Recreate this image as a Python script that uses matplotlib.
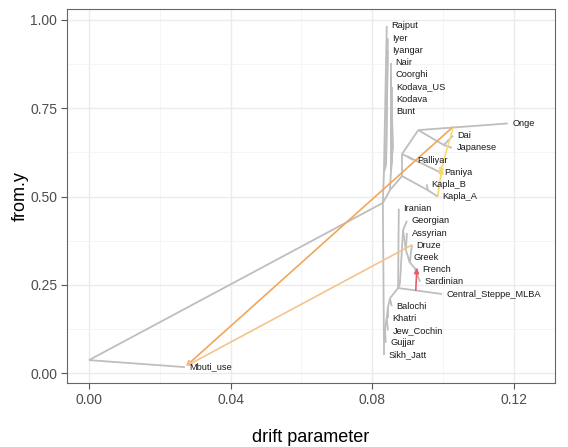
import matplotlib.pyplot as plt
from matplotlib.ticker import FixedLocator

plt.rcParams['font.family'] = ['Liberation Sans', 'DejaVu Sans']

# leaves of the tree (drift, vertical position)
leaf_names = ['Mbuti_use', 'Sikh_Jatt', 'Gujjar', 'Jew_Cochin', 'Khatri', 'Balochi',
              'Central_Steppe_MLBA', 'Sardinian', 'French', 'Greek', 'Druze', 'Assyrian',
              'Georgian', 'Iranian', 'Kapla_A', 'Kapla_B', 'Paniya', 'Palliyar',
              'Japanese', 'Dai', 'Onge', 'Bunt', 'Kodava', 'Kodava_US', 'Coorghi',
              'Nair', 'Iyangar', 'Iyer', 'Rajput']
leaf_x = [0.0271, 0.0833, 0.0838, 0.0844, 0.0844, 0.0855,
          0.0997, 0.0935, 0.0929, 0.0903, 0.0912, 0.0898,
          0.0898, 0.0875, 0.0985, 0.0954, 0.0991, 0.0915,
          0.1025, 0.1028, 0.1183, 0.0855, 0.0855, 0.0855, 0.0853,
          0.0853, 0.0844, 0.0844, 0.0841]
leaf_y = [0.0172, 0.0517, 0.0862, 0.1207, 0.1552, 0.1897,
          0.2241, 0.2586, 0.2931, 0.3276, 0.3621, 0.3966,
          0.4310, 0.4655, 0.5000, 0.5345, 0.5690, 0.6034,
          0.6379, 0.6724, 0.7069, 0.7414, 0.7759, 0.8103, 0.8448,
          0.8793, 0.9138, 0.9483, 0.9828]

# internal nodes
node_names = ['root', 'A', 'D1', 'D2', 'D3', 'D4', 'D5', 'W', 'W2', 'W3', 'W4', 'W5', 'W6',
              'P', 'Q', 'X', 'S1', 'S2', 'S3', 'S4', 'E', 'F', 'G', 'K', 'EA', 'H']
node_x = [0.0, 0.0830, 0.0833, 0.0836, 0.0841, 0.0844, 0.0850, 0.0873, 0.0878, 0.0887,
          0.0895, 0.0906, 0.0920,
          0.0833, 0.0839, 0.0850, 0.0853, 0.0855, 0.0855, 0.0858,
          0.0884, 0.0884, 0.0898, 0.0957, 0.0930, 0.1002]
node_y = [0.037, 0.482, 0.093, 0.127, 0.156, 0.184, 0.212, 0.241, 0.252, 0.405,
          0.348, 0.314, 0.297,
          0.569, 0.589, 0.518, 0.572, 0.592, 0.606, 0.635,
          0.558, 0.620, 0.614, 0.518, 0.688, 0.646]

edge_from = ['root', 'root', 'A', 'D1', 'D1', 'D2', 'D2', 'D3', 'D3', 'D4', 'D4',
             'D5', 'D5', 'W', 'W', 'W', 'W2', 'W3', 'W3', 'W4', 'W4', 'W5', 'W5', 'W5',
             'W6', 'W6',
             'A', 'P', 'P', 'Q', 'Q', 'A', 'X', 'X', 'S1', 'S1', 'S2', 'S2', 'S3', 'S3',
             'S4', 'S4', 'E', 'E', 'K', 'K', 'F', 'F', 'G', 'G',
             'EA', 'EA', 'H', 'H']
edge_to = ['Mbuti_use', 'A', 'D1', 'Sikh_Jatt', 'D2', 'Gujjar', 'D3', 'Jew_Cochin', 'D4',
           'Khatri', 'D5', 'Balochi', 'W', 'Iranian', 'Central_Steppe_MLBA', 'W2',
           'W3', 'Georgian', 'W4', 'Assyrian', 'W5', 'Druze', 'Greek', 'W6',
           'French', 'Sardinian',
           'P', 'Rajput', 'Q', 'Iyer', 'Iyangar', 'X', 'E', 'S1', 'Nair', 'S2', 'Coorghi',
           'S3', 'Kodava_US', 'S4', 'Kodava', 'Bunt', 'K', 'F', 'Kapla_B', 'Kapla_A',
           'EA', 'G', 'Palliyar', 'Paniya', 'Onge', 'H', 'Dai', 'Japanese']

# migration edges: start, end, colour by weight
mig_x0 = [0.1028, 0.0912, 0.1028, 0.0985, 0.0923]
mig_y0 = [0.697, 0.363, 0.694, 0.501, 0.235]
mig_x1 = [0.0274, 0.0274, 0.0991, 0.0997, 0.0926]
mig_y1 = [0.020, 0.020, 0.564, 0.581, 0.298]
mig_col = ['#F2A65A', '#F5C38E', '#F6DE74', '#F7D860', '#EE5A66']

pos = {}
for n, x, y in zip(leaf_names, leaf_x, leaf_y):
    pos[n] = (x, y)
for n, x, y in zip(node_names, node_x, node_y):
    pos[n] = (x, y)

fig = plt.figure(figsize=(5.68, 4.47), dpi=100)
ax = fig.add_axes([0.118, 0.143, 0.859, 0.837])

for a, b in zip(edge_from, edge_to):
    (x0, y0), (x1, y1) = pos[a], pos[b]
    ax.plot([x0, x1], [y0, y1], color='#BEBEBE', lw=1.3, solid_capstyle='butt', zorder=2)

for x0, y0, x1, y1, c in zip(mig_x0, mig_y0, mig_x1, mig_y1, mig_col):
    ax.annotate('', xy=(x1, y1), xytext=(x0, y0),
                arrowprops=dict(arrowstyle='-|>', color=c, lw=1.2, mutation_scale=7,
                                shrinkA=0, shrinkB=0), zorder=3)

for n, x, y in zip(leaf_names, leaf_x, leaf_y):
    ax.text(x + 0.0013, y, n, fontsize=6.7, ha='left', va='center', color='#1A1A1A', zorder=4)

ax.set_xlim(-0.0062, 0.1316)
ax.set_ylim(-0.028, 1.031)
ax.set_xticks([0.0, 0.04, 0.08, 0.12])
ax.set_xticklabels(['0.00', '0.04', '0.08', '0.12'])
ax.set_yticks([0.0, 0.25, 0.5, 0.75, 1.0])
ax.set_yticklabels(['0.00', '0.25', '0.50', '0.75', '1.00'])
ax.xaxis.set_minor_locator(FixedLocator([0.02, 0.06, 0.10]))
ax.yaxis.set_minor_locator(FixedLocator([0.125, 0.375, 0.625, 0.875]))
ax.grid(which='major', color='#EBEBEB', lw=1.0, zorder=0)
ax.grid(which='minor', color='#F2F2F2', lw=0.5, zorder=0)
ax.set_axisbelow(True)
ax.tick_params(which='major', direction='out', length=4, width=0.8, color='#555555',
               labelsize=10, labelcolor='#4D4D4D', pad=3)
ax.tick_params(which='minor', length=0)
for s in ax.spines.values():
    s.set_color('#666666')
    s.set_linewidth(0.8)

ax.set_xlabel('drift parameter', fontsize=13, labelpad=16)
ax.set_ylabel('from.y', fontsize=13, labelpad=1)

fig.savefig('out.png', dpi=100)
